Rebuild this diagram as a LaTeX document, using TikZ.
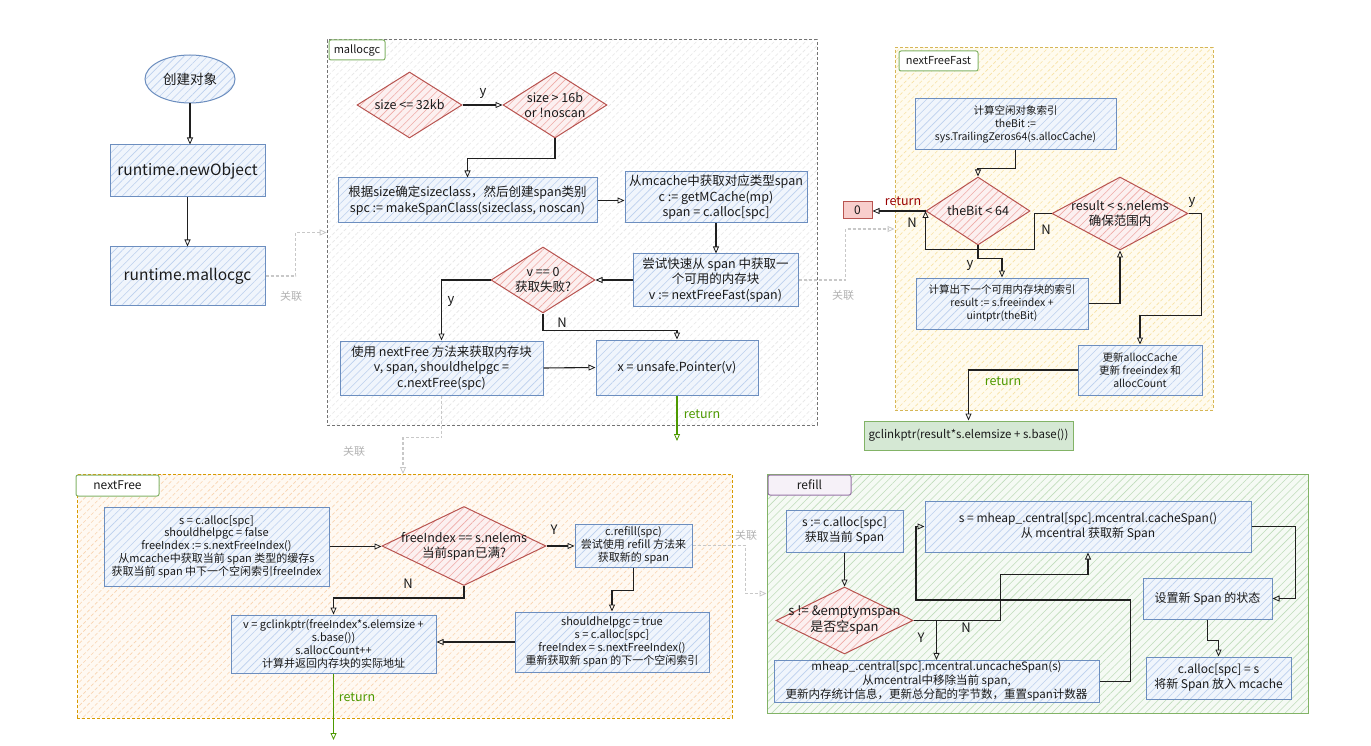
\documentclass[tikz,border=0pt]{standalone}
\usepackage{fontspec}
\setmainfont{Noto Sans CJK SC}
\usetikzlibrary{shapes.geometric,arrows.meta,patterns.meta}
\definecolor{bluebd}{HTML}{6C8EBF}
\definecolor{bluefill}{HTML}{F0F5FC}
\definecolor{bluehatch}{HTML}{BCD0EE}
\definecolor{redbd}{HTML}{B85450}
\definecolor{redfill}{HTML}{FCF0F0}
\definecolor{redhatch}{HTML}{EFAAA6}
\definecolor{zfill}{HTML}{F8CECC}
\definecolor{greenbd}{HTML}{82B366}
\definecolor{greenfill}{HTML}{D5E8D4}
\definecolor{purplebd}{HTML}{9673A6}
\definecolor{purplefill}{HTML}{F6F1F8}
\definecolor{orangebd}{HTML}{D79B00}
\definecolor{yellowbd}{HTML}{D6B656}
\definecolor{txt}{HTML}{1A1A1A}
\definecolor{retgreen}{HTML}{4D9900}
\definecolor{retred}{HTML}{990000}
\definecolor{assocc}{HTML}{C8C8C8}
\definecolor{assoctxt}{HTML}{B3B3B3}
\definecolor{mhatch}{HTML}{E6E6E6}
\definecolor{yfill}{HTML}{FFFBEE}
\definecolor{yhatch}{HTML}{F8E2A4}
\definecolor{ofill}{HTML}{FFF9F2}
\definecolor{ohatch}{HTML}{F9D3AE}
\definecolor{gfill}{HTML}{F5FAF4}
\definecolor{ghatch}{HTML}{C0DCBB}
\newcommand{\myfs}[2]{\fontsize{#1pt}{#2pt}\selectfont}
\tikzset{
  hatch/.style n args={2}{preaction={fill=#1}, pattern={Lines[angle=45,distance=5.5pt,line width=0.6pt]}, pattern color=#2},
  bx/.style={rectangle, draw=bluebd, line width=1pt, hatch={bluefill}{bluehatch}, align=center, inner sep=1pt, text=txt},
  ell/.style={ellipse, draw=bluebd, line width=1pt, hatch={bluefill}{bluehatch}, inner sep=0pt, text=txt},
  dia/.style={diamond, draw=redbd, line width=1pt, hatch={redfill}{redhatch}, inner sep=0pt},
  dtx/.style={font=\myfs{12.5}{15}, align=center, text=txt},
  dtxL/.style={font=\myfs{13}{16}, align=center, text=txt},
  cont/.style={rectangle, line width=1pt, inner sep=0pt},
  tab/.style={rectangle, rounded corners=2pt, draw=greenbd, line width=1pt, fill=white, inner sep=0pt, font=\myfs{11}{13}, text=txt},
  zbox/.style={rectangle, draw=redbd, fill=zfill, line width=1pt, minimum width=29pt, minimum height=17pt, inner sep=0pt, font=\myfs{12}{14}, text=txt},
  gbox/.style={rectangle, draw=greenbd, fill=greenfill, line width=1pt, inner sep=0pt, font=\myfs{11.5}{13}, text=txt},
  fM/.style={font=\myfs{12.5}{15.5}},
  fS/.style={font=\myfs{10.5}{13}},
  fN/.style={font=\myfs{11}{12.8}},
  fR/.style={font=\myfs{12}{15}},
  fR2/.style={font=\myfs{11.5}{14}},
  tip/.style={-{Triangle[open,length=7pt,width=6pt,line width=0.8pt]}},
  arr/.style={draw=black!88, line width=1.1pt, tip},
  garr/.style={draw=retgreen, line width=1.1pt, tip},
  assoc/.style={draw=assocc, line width=1.2pt, dash pattern=on 3pt off 2pt, tip},
  asl/.style={font=\myfs{11}{13}, text=assoctxt},
  lab/.style={font=\myfs{13}{15}, text=txt},
  gl/.style={font=\myfs{12.5}{14}, text=retgreen},
  rl/.style={font=\myfs{12.5}{14}, text=retred}
}
\begin{document}
\begin{tikzpicture}[x=1pt,y=-1pt]
\useasboundingbox[fill=white] (0,0) rectangle (1371,746);

% containers
\node[cont, draw=black!55, dash pattern=on 3pt off 2pt, hatch={white}{mhatch}, minimum width=490pt, minimum height=385pt] (mC) at (572,232.5) {};
\node[tab, minimum width=56pt, minimum height=20pt] (mT) at (357,50) {mallocgc};
\node[cont, draw=yellowbd, dash pattern=on 3pt off 2pt, hatch={yfill}{yhatch}, minimum width=318pt, minimum height=362pt] (fC) at (1054,229) {};
\node[tab, minimum width=79pt, minimum height=20pt] (fT) at (938.5,61) {nextFreeFast};
\node[cont, draw=orangebd, dash pattern=on 3pt off 2pt, hatch={ofill}{ohatch}, minimum width=655pt, minimum height=244pt] (nC) at (404.5,596) {};
\node[tab, minimum width=83pt, minimum height=21pt, font=\myfs{12}{14}] (nT) at (117.5,485.5) {nextFree};
\node[cont, draw=greenbd, hatch={gfill}{ghatch}, minimum width=541pt, minimum height=239pt] (rC) at (1037.5,593.5) {};
\node[tab, draw=purplebd, fill=purplefill, minimum width=83pt, minimum height=20pt, font=\myfs{12}{14}] (rT) at (809.5,485) {refill};

% left column
\node[ell, minimum width=90pt, minimum height=48pt, font=\myfs{13.5}{16}] (start) at (190,79) {创建对象};
\node[bx, minimum width=155pt, minimum height=52pt, font=\myfs{15.5}{18}] (rnew) at (187.5,171) {runtime.newObject};
\node[bx, minimum width=155pt, minimum height=58pt, font=\myfs{15.5}{18}] (rmal) at (187.5,276) {runtime.mallocgc};
\draw[arr] (start.south) -- (start.south |- rnew.north);
\draw[arr] (rnew) -- (rmal);
\draw[assoc] (rmal.east) -- ++(30,0) |- (mC.west);
\node[asl] at (291,296) {关联};

% mallocgc
\node[dia, minimum width=105pt, minimum height=66pt, label={[dtx]center:{size <= 32kb}}] (d1) at (409.5,105) {};
\node[dia, minimum width=104pt, minimum height=66pt, label={[dtx]center:{size > 16b\\or !noscan}}] (d2) at (555,105) {};
\draw[arr] (d1.east) -- (d2.west);
\node[lab] at (483,93) {y};
\node[bx, fM, minimum width=259pt, minimum height=45pt] (b1) at (467.5,200.5) {根据size确定sizeclass，然后创建span类别\\spc := makeSpanClass(sizeclass, noscan)};
\draw[arr] (d2.south) -- ++(0,20) -| (b1.north);
\node[bx, fM, minimum width=182pt, minimum height=51pt] (b2) at (716,197.5) {从mcache中获取对应类型span\\c := getMCache(mp)\\span = c.alloc[spc]};
\draw[arr] (b1.east) -- (b1.east -| b2.west);
\node[bx, fM, minimum width=165pt, minimum height=52pt] (b3) at (715.5,280) {尝试快速从 span 中获取一\\个可用的内存块\\v := nextFreeFast(span)};
\draw[arr] (b2.south) -- (b2.south |- b3.north);
\node[dia, minimum width=104pt, minimum height=66pt, label={[dtx]center:{v == 0\\获取失败?}}] (d3) at (543,280) {};
\draw[arr] (b3.west) -- (d3.east);
\node[bx, fM, minimum width=203pt, minimum height=54pt] (b4) at (441.5,368) {使用 nextFree 方法来获取内存块\\v, span, shouldhelpgc =\\c.nextFree(spc)};
\node[bx, fM, minimum width=162pt, minimum height=55pt] (b5) at (677,367.5) {x = unsafe.Pointer(v)};
\draw[arr] (d3.west) -| (b4.north);
\node[lab] at (451,301) {y};
\draw[arr] (d3.south) -- ++(0,17) -| (b5.north);
\node[lab] at (562,323) {N};
\draw[arr] (b4.east) -- (b5.west);
\coordinate (ret1) at (677,441);
\draw[garr] (b5.south) -- (ret1);
\node[gl] at (702,414) {return};
\coordinate (nfin) at (403,474);
\draw[assoc] (b4.south) -- ++(0,42) -| (nfin);
\node[asl] at (354,451) {关联};
\draw[assoc] (b3.east) -- ++(47,0) |- (fC.west);
\node[asl] at (843,295) {关联};

% nextFreeFast
\node[bx, fS, minimum width=201pt, minimum height=51pt] (f1) at (1015.5,124.5) {计算空闲对象索引\\theBit :=\\sys.TrailingZeros64(s.allocCache)};
\node[dia, minimum width=104pt, minimum height=68pt, label={[dtx]center:{theBit < 64}}] (fd1) at (978,211) {};
\draw[arr] (f1.south) -- ++(0,18) -| (fd1.north);
\node[zbox] (zero) at (857.5,210.5) {0};
\draw[arr] (fd1.west) -- (fd1.west -| zero.east);
\node[rl] at (903,201) {return};
\node[dia, minimum width=136pt, minimum height=73pt, label={[dtx]center:{result < s.nelems\\确保范围内}}] (fd2) at (1120,213.5) {};
\node[bx, fS, minimum width=172pt, minimum height=51pt] (f2) at (1002,303.5) {计算出下一个可用内存块的索引\\result := s.freeindex +\\uintptr(theBit)};
\draw[arr] (fd1.south) -- ++(0,13) -| (f2.north);
\node[lab] at (970,265) {y};
\draw[arr] (f2.east) -| (fd2.south);
\draw[arr] (fd2.west) -- ++(-17,0) -- ++(0,36) -| (fd1.west);
\node[lab] at (1046,230) {N};
\node[lab] at (912,223) {N};
\node[bx, fS, minimum width=124pt, minimum height=50pt] (f3) at (1140,370) {更新allocCache\\更新 freeindex 和\\allocCount};
\draw[arr] (fd2.east) -- ++(13,0) -- ++(0,102) -| (f3.north);
\node[lab] at (1192,202) {y};
\node[gbox, minimum width=209pt, minimum height=29pt] (g1) at (968.5,435.5) {gclinkptr(result*s.elemsize + s.base())};
\draw[arr] (f3.west) -| (g1.north);
\node[gl] at (1003,381) {return};

% nextFree
\node[bx, fN, minimum width=225pt, minimum height=79pt] (n1) at (216.5,546.5) {s = c.alloc[spc]\\shouldhelpgc = false\\freeIndex := s.nextFreeIndex()\\从mcache中获取当前 span 类型的缓存s\\获取当前 span 中下一个空闲索引freeIndex};
\node[dia, minimum width=164pt, minimum height=79pt, label={[dtx]center:{freeIndex == s.nelems\\当前span已满?}}] (nd1) at (464,546) {};
\draw[arr] (n1.east) -- (n1.east -| nd1.west);
\node[bx, fN, minimum width=117pt, minimum height=43pt] (n2) at (633.5,545.5) {c.refill(spc)\\尝试使用 refill 方法来\\获取新的 span};
\draw[arr] (nd1.east) -- (nd1.east -| n2.west);
\node[lab] at (554,530) {Y};
\node[bx, fN, minimum width=194pt, minimum height=60pt] (n3) at (612,642) {shouldhelpgc = true\\s = c.alloc[spc]\\freeIndex = s.nextFreeIndex()\\重新获取新 span 的下一个空闲索引};
\draw[arr] (n2.south) -- ++(0,23) -| (n3.north);
\node[bx, fN, minimum width=205pt, minimum height=58pt] (n4) at (333.5,644) {v = gclinkptr(freeIndex*s.elemsize +\\s.base())\\s.allocCount++\\计算并返回内存块的实际地址};
\draw[arr] (n3.west) -- (n3.west -| n4.east);
\draw[arr] (nd1.south) -- ++(0,12) -| (n4.north);
\node[lab] at (408,584) {N};
\coordinate (ret2) at (333.5,740);
\draw[garr] (n4.south) -- (ret2);
\node[gl] at (357,697) {return};
\draw[assoc] (n2.east) -- ++(53,0) |- (rC.west);
\node[asl] at (746,535) {关联};

% refill
\node[bx, fR, minimum width=117pt, minimum height=42pt] (r1) at (844.5,531) {s := c.alloc[spc]\\获取当前 Span};
\node[dia, minimum width=137pt, minimum height=67pt, label={[dtxL]center:{s != \&emptymspan\\是否空span}}] (rd1) at (844.5,620.5) {};
\draw[arr] (r1.south) -- (rd1.north);
\node[bx, fR, minimum width=326pt, minimum height=51pt] (r2) at (1088,526.5) {s = mheap\_.central[spc].mcentral.cacheSpan()\\从 mcentral 获取新 Span};
\node[bx, fR2, minimum width=325pt, minimum height=41pt] (r3) at (936.5,681.5) {mheap\_.central[spc].mcentral.uncacheSpan(s)\\从mcentral中移除当前 span,\\更新内存统计信息，更新总分配的字节数，重置span计数器};
\node[bx, fR, minimum width=129pt, minimum height=41pt] (r4) at (1207.5,598.5) {设置新 Span 的状态};
\node[bx, fR, minimum width=145pt, minimum height=42pt] (r5) at (1218.5,678) {c.alloc[spc] = s\\将新 Span 放入 mcache};
\draw[arr] (rd1.east) -| (r3.north);
\node[lab] at (921,638) {Y};
\draw[arr] (rd1.east) -- ++(87,0) -- ++(0,-46) -| (r2.south);
\node[lab] at (966,628) {N};
\coordinate (lp) at (916,600);
\draw[arr] (r3.east) -- ++(31,0) |- (lp) |- (r2.west);
\draw[arr] (r2.east) -- ++(44,0) |- (r4.east);
\draw[arr] (r4.south) -- ++(0,21) -| (r5.north);
\end{tikzpicture}
\end{document}
